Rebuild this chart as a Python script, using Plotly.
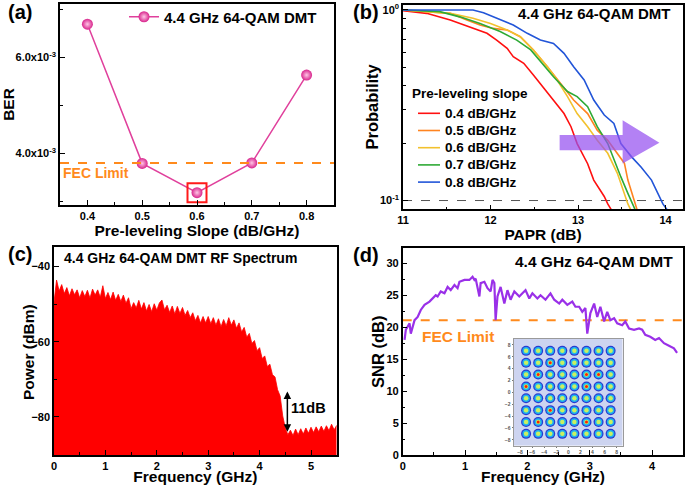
import plotly.graph_objects as go

# ---------------- data ----------------
# (a) BER vs pre-leveling slope
slope = [0.4, 0.5, 0.6, 0.7, 0.8]
ber = [6.69e-3, 3.79e-3, 3.18e-3, 3.80e-3, 5.63e-3]
fec_ber = 3.8e-3

# (b) PAPR CCDF curves
slope_names = ["0.4 dB/GHz", "0.5 dB/GHz", "0.6 dB/GHz", "0.7 dB/GHz", "0.8 dB/GHz"]
papr_04 = [11.0, 11.27, 11.54, 11.80, 11.96, 12.07, 12.19, 12.26, 12.38, 12.49, 12.61, 12.72, 12.84, 12.92, 12.99, 13.11, 13.18, 13.30, 13.34, 13.39]
ccdf_04 = [0.99, 0.96, 0.886, 0.80, 0.754, 0.695, 0.629, 0.569, 0.525, 0.456, 0.388, 0.337, 0.286, 0.244, 0.199, 0.156, 0.128, 0.105, 0.096, 0.088]
papr_05 = [11.0, 11.54, 11.73, 11.88, 12.03, 12.19, 12.34, 12.49, 12.65, 12.80, 12.95, 13.11, 13.22, 13.34, 13.45, 13.53, 13.57, 13.62, 13.66, 13.68]
ccdf_05 = [1.0, 0.96, 0.886, 0.834, 0.80, 0.785, 0.724, 0.617, 0.504, 0.412, 0.337, 0.286, 0.234, 0.207, 0.177, 0.157, 0.128, 0.109, 0.094, 0.088]
papr_06 = [11.0, 11.54, 11.80, 12.00, 12.19, 12.34, 12.49, 12.65, 12.76, 12.88, 12.99, 13.11, 13.22, 13.34, 13.45, 13.53, 13.57, 13.61]
ccdf_06 = [1.0, 0.96, 0.904, 0.85, 0.785, 0.724, 0.617, 0.504, 0.43, 0.351, 0.286, 0.244, 0.207, 0.177, 0.139, 0.109, 0.096, 0.088]
papr_07 = [11.0, 11.42, 11.65, 11.88, 12.11, 12.30, 12.46, 12.61, 12.72, 12.88, 12.99, 13.11, 13.22, 13.34, 13.41, 13.49, 13.57, 13.62, 13.66]
ccdf_07 = [1.0, 0.98, 0.92, 0.85, 0.77, 0.695, 0.617, 0.514, 0.446, 0.373, 0.351, 0.311, 0.244, 0.199, 0.163, 0.133, 0.109, 0.096, 0.088]
papr_08 = [11.0, 11.80, 11.92, 12.07, 12.26, 12.42, 12.57, 12.72, 12.84, 12.95, 13.07, 13.18, 13.30, 13.41, 13.49, 13.61, 13.72, 13.84, 13.91, 13.97, 14.03]
ccdf_08 = [1.0, 1.0, 0.968, 0.904, 0.834, 0.754, 0.695, 0.668, 0.592, 0.504, 0.429, 0.337, 0.281, 0.254, 0.199, 0.170, 0.150, 0.128, 0.109, 0.096, 0.088]
ccdf_ref = 0.1
arrow_papr = [12.79, 13.51, 13.51, 13.93, 13.51, 13.51, 12.79, 12.79]
arrow_prob = [0.2205, 0.2205, 0.264, 0.201, 0.1564, 0.1838, 0.1838, 0.2205]

# (c) RF spectrum (upper envelope)
spec_freq = [0.00, 0.05, 0.10, 0.15, 0.20, 0.25, 0.30, 0.35, 0.40, 0.45, 0.50, 0.55, 0.60, 0.65, 0.70, 0.75, 0.80, 0.85, 0.90, 0.95,
             1.00, 1.05, 1.10, 1.15, 1.20, 1.25, 1.30, 1.35, 1.40, 1.45, 1.50, 1.55, 1.60, 1.65, 1.70, 1.75, 1.80, 1.85, 1.90, 1.95,
             2.00, 2.05, 2.10, 2.15, 2.20, 2.25, 2.30, 2.35, 2.40, 2.45, 2.50, 2.55, 2.60, 2.65, 2.70, 2.75, 2.80, 2.85, 2.90, 2.95,
             3.00, 3.05, 3.10, 3.15, 3.20, 3.25, 3.30, 3.35, 3.40, 3.45, 3.50, 3.55, 3.60, 3.65, 3.70, 3.75, 3.80, 3.85, 3.90, 3.95,
             4.00, 4.05, 4.10, 4.15, 4.20, 4.25, 4.30, 4.35, 4.40, 4.45, 4.50, 4.55, 4.60, 4.65, 4.70, 4.75, 4.80, 4.85, 4.90, 4.95,
             5.00, 5.05, 5.10, 5.15, 5.20, 5.25, 5.30, 5.35, 5.40, 5.45, 5.50]
spec_dbm = [-49.5, -43.6, -46.5, -44.8, -47.2, -45.6, -47.8, -45.9, -47.5, -46.2, -48.3, -46.4, -48.0, -46.3, -48.4, -46.0, -47.6, -46.2, -48.2, -45.1,
            -48.5, -46.9, -48.8, -46.8, -49.0, -47.4, -49.3, -47.6, -49.8, -48.3, -51.2, -49.6, -51.0, -49.0, -51.3, -49.6, -51.8, -50.1, -52.0, -49.9,
            -51.6, -49.7, -48.9, -51.5, -50.3, -52.2, -50.5, -52.6, -50.6, -52.5, -50.9, -53.0, -51.7, -53.6, -52.3, -54.4, -53.0, -55.0, -53.3, -55.0,
            -53.3, -55.2, -53.6, -55.6, -53.9, -56.0, -54.1, -55.8, -53.6, -55.6, -54.2, -56.4, -55.0, -57.4, -56.2, -58.8, -57.8, -60.5, -59.7, -62.4,
            -61.6, -64.5, -63.8, -66.6, -66.0, -68.8, -69.4, -72.8, -74.5, -79.8, -83.0, -84.8, -83.6, -85.0, -83.3, -84.8, -83.2, -84.6, -83.0, -84.4,
            -82.8, -84.2, -82.7, -84.0, -82.5, -83.9, -82.4, -83.7, -82.0, -83.5, -82.3]
spec_floor = -100.0
gap_freq = 4.54
gap_top = -73.3
gap_bottom = -84.4

# (d) SNR per subcarrier
snr_freq = [0.03, 0.05, 0.11, 0.13, 0.19, 0.24, 0.29, 0.35, 0.43, 0.48, 0.53, 0.56, 0.61, 0.67, 0.72, 0.77, 0.83, 0.88, 0.91, 0.99,
            1.07, 1.12, 1.15, 1.17, 1.23, 1.25, 1.31, 1.36, 1.41, 1.44, 1.47, 1.49, 1.52, 1.57, 1.63, 1.68, 1.73, 1.79, 1.87, 1.92,
            1.97, 2.03, 2.08, 2.16, 2.21, 2.29, 2.37, 2.43, 2.51, 2.56, 2.64, 2.72, 2.77, 2.83, 2.88, 2.93, 2.96, 3.01, 3.07, 3.12,
            3.17, 3.23, 3.28, 3.33, 3.39, 3.44, 3.52, 3.57, 3.63, 3.71, 3.79, 3.84, 3.89, 3.97, 4.05, 4.11, 4.19, 4.27, 4.35, 4.40]
snr_db = [18.0, 19.6, 20.6, 19.0, 21.1, 21.6, 22.7, 23.5, 24.0, 24.5, 25.0, 24.8, 25.6, 25.3, 26.3, 25.8, 26.6, 26.1, 27.1, 27.4,
          27.4, 27.9, 27.4, 27.6, 24.8, 26.9, 27.1, 26.1, 25.6, 27.4, 26.9, 21.1, 24.8, 26.3, 23.7, 25.8, 24.3, 25.6, 24.8, 25.3,
          25.8, 24.5, 25.3, 24.5, 25.0, 24.3, 25.3, 24.3, 23.7, 24.3, 23.5, 24.0, 23.2, 23.2, 22.4, 23.0, 19.0, 22.2, 23.7, 21.6,
          23.2, 20.9, 22.4, 21.1, 21.4, 20.6, 20.3, 20.9, 19.8, 19.6, 19.8, 19.6, 18.8, 18.5, 18.0, 18.3, 17.5, 17.1, 16.7, 16.0]
fec_snr = 21.1

# (d) inset: 64-QAM constellation
qam_levels = [-7, -5, -3, -1, 1, 3, 5, 7]
hot_I = [-3, -5, 3, 5, -7, 3, -3, -5, 3]
hot_Q = [5, 3, 3, 3, 1, 1, -3, -5, -5]
const_ticks = [-8, -6, -4, -2, 0, 2, 4, 6, 8]

# ---------------- styling ----------------
W, H = 685, 485
FONT = "Liberation Sans"
C_PINK = "#e0409c"
C_FEC = "#ff8a1c"
slope_colors = ["#ff1010", "#ff8420", "#f2c12e", "#2eaa35", "#2255d8"]
C_SNR = "#9a30e8"


def px(x):
    return x / W


def py(y):
    return 1 - y / H


def axstyle(**kw):
    d = dict(showline=True, linecolor="black", linewidth=1.5, mirror=True,
             ticks="inside", ticklen=5, tickwidth=1.2, tickcolor="black",
             showgrid=False, zeroline=False, automargin=False,
             tickfont=dict(size=11, color="black"),
             minor=dict(ticks="inside", ticklen=3, tickwidth=1, tickcolor="black", showgrid=False))
    d.update(kw)
    return d


fig = go.Figure()

# ---- (a)
fig.add_trace(go.Scatter(x=slope, y=ber, mode="lines+markers", name="4.4 GHz 64-QAM DMT",
                         line=dict(color=C_PINK, width=1.5),
                         marker=dict(size=11, color="#d8248c",
                                     gradient=dict(type="radial", color="#ffc6e6")),
                         xaxis="x", yaxis="y", legend="legend"))
imin = ber.index(min(ber))
fig.add_trace(go.Scatter(x=[slope[imin]], y=[ber[imin]], mode="markers", showlegend=False,
                         marker=dict(symbol="square-open", size=19, color="#ff1a1a", line=dict(width=2)),
                         xaxis="x", yaxis="y"))
fig.add_trace(go.Scatter(x=[0.35, 0.85], y=[fec_ber, fec_ber], mode="lines", showlegend=False,
                         line=dict(color=C_FEC, width=2, dash="dash"), xaxis="x", yaxis="y"))

# ---- (b)
papr_all = [papr_04, papr_05, papr_06, papr_07, papr_08]
ccdf_all = [ccdf_04, ccdf_05, ccdf_06, ccdf_07, ccdf_08]
fig.add_trace(go.Scatter(x=[11, 14.2], y=[ccdf_ref, ccdf_ref], mode="lines", showlegend=False,
                         line=dict(color="#555555", width=1, dash="dash"), xaxis="x2", yaxis="y2"))
for xs, ys, nm, col in zip(papr_all, ccdf_all, slope_names, slope_colors):
    fig.add_trace(go.Scatter(x=xs, y=ys, mode="lines", name=nm, showlegend=False,
                             line=dict(color=col, width=1.6), xaxis="x2", yaxis="y2"))
fig.add_trace(go.Scatter(x=arrow_papr, y=arrow_prob, mode="lines", fill="toself",
                         fillcolor="rgba(150,80,240,0.72)", line=dict(width=0),
                         showlegend=False, hoverinfo="skip", xaxis="x2", yaxis="y2"))

# ---- (c)
fig.add_trace(go.Scatter(x=spec_freq, y=[spec_floor] * len(spec_freq), mode="lines",
                         line=dict(width=0, color="red"), showlegend=False, xaxis="x3", yaxis="y3"))
fig.add_trace(go.Scatter(x=spec_freq, y=spec_dbm, mode="lines", fill="tonexty", fillcolor="#ff0000",
                         line=dict(color="#ff0000", width=0.8), showlegend=False, xaxis="x3", yaxis="y3"))

# ---- (d)
fig.add_trace(go.Scatter(x=[0, 4.5], y=[fec_snr, fec_snr], mode="lines", showlegend=False,
                         line=dict(color=C_FEC, width=2, dash="dash"), xaxis="x4", yaxis="y4"))
fig.add_trace(go.Scatter(x=snr_freq, y=snr_db, mode="lines", showlegend=False,
                         line=dict(color=C_SNR, width=2.2), xaxis="x4", yaxis="y4"))

# inset constellation
ci = [i for q in qam_levels[::-1] for i in qam_levels]
cq = [q for q in qam_levels[::-1] for i in qam_levels]
for size, col in [(10, "#2a3bd0"), (7.5, "#1db3f0"), (4.5, "#c9f060")]:
    fig.add_trace(go.Scatter(x=ci, y=cq, mode="markers", showlegend=False, hoverinfo="skip",
                             marker=dict(size=size, color=col, line=dict(width=0)),
                             xaxis="x5", yaxis="y5"))
fig.add_trace(go.Scatter(x=hot_I, y=hot_Q, mode="markers", showlegend=False, hoverinfo="skip",
                         marker=dict(size=3, color="#ff2200", line=dict(width=0)),
                         xaxis="x5", yaxis="y5"))

# ---------------- layout ----------------
title_font = dict(size=15.5, color="black")
layout = dict(
    width=W, height=H,
    margin=dict(l=0, r=0, t=0, b=0),
    paper_bgcolor="white", plot_bgcolor="white",
    font=dict(family=FONT, weight="bold", color="black"),
    xaxis=axstyle(domain=[px(60), px(334)], range=[0.35, 0.85], tickvals=[0.4, 0.5, 0.6, 0.7, 0.8],
                  ticktext=["0.4", "0.5", "0.6", "0.7", "0.8"],
                  minor=dict(ticks="inside", ticklen=3, tickcolor="black", tickvals=[0.45, 0.55, 0.65, 0.75]),
                  title=dict(text="Pre-leveling Slope (dB/GHz)", font=title_font, standoff=0),
                  anchor="y"),
    yaxis=axstyle(domain=[py(205), py(4)], range=[2.923e-3, 7.11e-3], tickvals=[4e-3, 6e-3],
                  ticktext=["4.0x10<sup>-3</sup>", "6.0x10<sup>-3</sup>"],
                  minor=dict(ticks="inside", ticklen=3, tickcolor="black", tickvals=[3e-3, 5e-3, 7e-3]),
                  title=dict(text="BER", font=title_font, standoff=1), anchor="x"),
    xaxis2=axstyle(domain=[px(403), px(683)], range=[11, 14.2], tickvals=[11, 12, 13, 14],
                   minor=dict(ticks="inside", ticklen=3, tickcolor="black", tickvals=[11.5, 12.5, 13.5]),
                   title=dict(text="PAPR (dB)", font=title_font, standoff=1), anchor="y2"),
    yaxis2=axstyle(domain=[py(209.3), py(5)], type="log", range=[-1.046, 0.026], tickvals=[0.1, 1],
                   ticktext=["10<sup>-1</sup>", "10<sup>0</sup>"],
                   minor=dict(ticks="inside", ticklen=3, tickcolor="black",
                              tickvals=[0.2, 0.3, 0.4, 0.5, 0.6, 0.7, 0.8, 0.9]),
                   anchor="x2"),
    xaxis3=axstyle(domain=[px(54), px(336.7)], range=[0, 5.5], dtick=1,
                   minor=dict(ticks="inside", ticklen=3, tickcolor="black", dtick=0.5),
                   title=dict(text="Frequency (GHz)", font=title_font, standoff=1), anchor="y3"),
    yaxis3=axstyle(domain=[py(455), py(246.7)], range=[-90.2, -34.7], tickvals=[-40, -60, -80],
                   minor=dict(ticks="inside", ticklen=3, tickcolor="black", tickvals=[-50, -70, -90]),
                   anchor="x3"),
    xaxis4=axstyle(domain=[px(402.7), px(683.3)], range=[0, 4.5], dtick=1,
                   minor=dict(ticks="inside", ticklen=3, tickcolor="black", dtick=0.5),
                   title=dict(text="Frequency (GHz)", font=title_font, standoff=1), anchor="y4"),
    yaxis4=axstyle(domain=[py(455), py(247.7)], range=[0, 32.44], dtick=5,
                   minor=dict(ticks="inside", ticklen=3, tickcolor="black", dtick=2.5),
                   anchor="x4"),
    xaxis5=dict(domain=[px(514), px(622.7)], range=[-9, 9], anchor="y5", showline=True, linecolor="#9a9a9a",
                linewidth=1, mirror=True, showgrid=False, zeroline=False, automargin=False,
                tickvals=const_ticks, ticks="outside", ticklen=1.5, tickcolor="#777", tickwidth=0.6,
                tickfont=dict(size=5, color="#555"), fixedrange=True),
    yaxis5=dict(domain=[py(445.7), py(339)], range=[-9, 9], anchor="x5", showline=True, linecolor="#9a9a9a",
                linewidth=1, mirror=True, showgrid=False, zeroline=False, automargin=False,
                tickvals=const_ticks, ticks="outside", ticklen=1.5, tickcolor="#777", tickwidth=0.6,
                tickfont=dict(size=5, color="#555"), fixedrange=True),
    legend=dict(x=px(124), y=py(17), xanchor="left", yanchor="middle", bgcolor="rgba(0,0,0,0)",
                font=dict(size=15, color="black"), itemwidth=30),
)
fig.update_layout(**layout)

shapes = [dict(type="rect", xref="x5", yref="y5", x0=-9, x1=9, y0=-9, y1=9,
               fillcolor="#cdd4f0", line=dict(width=0), layer="below")]
annotations = []
# panel labels
for lab, x, y in [("(a)", 20, 12), ("(b)", 366, 12), ("(c)", 20, 254), ("(d)", 366, 255)]:
    annotations.append(dict(text=lab, x=px(x), y=py(y), xref="paper", yref="paper", showarrow=False,
                            xanchor="center", yanchor="middle", font=dict(size=20, color="black")))
# y-axis titles placed beside their tick labels
for txt, x, y, sz in [("Probability", 371.5, 107, 16.5), ("Power (dBm)", 28, 352, 15.5), ("SNR (dB)", 378, 352, 16.5)]:
    annotations.append(dict(text=txt, x=px(x), y=py(y), xref="paper", yref="paper", showarrow=False,
                            textangle=-90, xanchor="center", yanchor="middle", font=dict(size=sz, color="black")))
# panel titles
annotations.append(dict(text="4.4 GHz 64-QAM DMT", x=px(594.5), y=py(13), xref="paper", yref="paper",
                        xanchor="center", yanchor="middle",
                        showarrow=False, font=dict(size=15, color="black")))
annotations.append(dict(text="4.4 GHz 64-QAM DMT RF Spectrum", x=px(180), y=py(258), xref="paper", yref="paper",
                        xanchor="center", yanchor="middle",
                        showarrow=False, font=dict(size=14, color="black")))
annotations.append(dict(text="4.4 GHz 64-QAM DMT", x=px(594), y=py(261), xref="paper", yref="paper",
                        xanchor="center", yanchor="middle",
                        showarrow=False, font=dict(size=15.5, color="black")))
# FEC labels
annotations.append(dict(text="FEC Limit", x=0.415, y=3.59e-3, xref="x", yref="y", showarrow=False,
                        font=dict(size=14, color=C_FEC)))
annotations.append(dict(text="FEC Limit", x=0.88, y=18.5, xref="x4", yref="y4", showarrow=False,
                        font=dict(size=15.5, color=C_FEC)))
# (b) manual legend
annotations.append(dict(text="Pre-leveling slope", x=px(410), y=py(94), xref="paper", yref="paper",
                        showarrow=False, xanchor="left", yanchor="middle", font=dict(size=13.5, color="black")))
for k, (nm, col) in enumerate(zip(slope_names, slope_colors)):
    yy = 113.3 + k * 17.2
    shapes.append(dict(type="line", xref="paper", yref="paper", x0=px(418), x1=px(440), y0=py(yy), y1=py(yy),
                       line=dict(color=col, width=1.6)))
    annotations.append(dict(text=nm, x=px(443), y=py(yy), xref="paper", yref="paper", showarrow=False,
                            xanchor="left", yanchor="middle", font=dict(size=13.5, color="black")))
# (c) 11 dB arrow
annotations.append(dict(text="", x=gap_freq, y=gap_top, ax=gap_freq, ay=gap_bottom, xref="x3", yref="y3",
                        axref="x3", ayref="y3", showarrow=True, arrowhead=2, startarrowhead=2,
                        arrowside="end+start", arrowwidth=1.5, arrowsize=1, arrowcolor="black"))
annotations.append(dict(text="11dB", x=4.95, y=-77.8, xref="x3", yref="y3", showarrow=False,
                        font=dict(size=14.5, color="black")))
fig.update_layout(shapes=shapes, annotations=annotations)

fig.write_html("out.html", config={"displayModeBar": False},
               post_script="document.body.style.margin='0px';document.body.style.padding='0px';document.body.style.overflow='hidden';")
